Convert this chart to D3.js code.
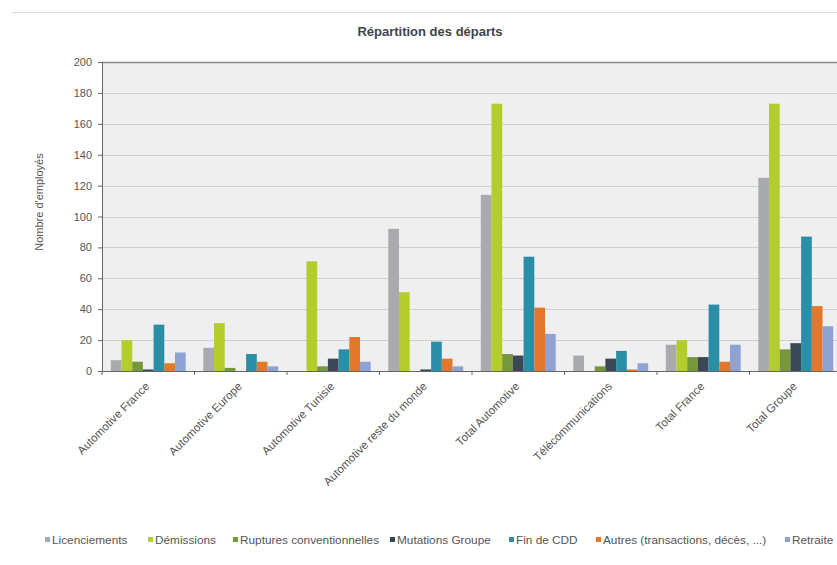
<!DOCTYPE html>
<html>
<head>
<meta charset="utf-8">
<script src="https://cdn.jsdelivr.net/npm/d3@7"></script>
<style>
  body { margin: 0; background: #fff; }
  svg { display: block; font-family: "Liberation Sans", Arial, sans-serif; }
</style>
</head>
<body>
<div id="chart-container"></div>
<script>
// catégories (axe X)
const categories = ["Automotive France", "Automotive Europe", "Automotive Tunisie",
    "Automotive reste du monde", "Total Automotive", "Télécommunications", "Total France", "Total Groupe"];

// séries
const seriesNames = ["Licenciements", "Démissions", "Ruptures conventionnelles", "Mutations Groupe",
    "Fin de CDD", "Autres (transactions, décès, ...)", "Retraite"];

const licenciements = [7, 15, 0, 92, 114, 10, 17, 125];
const demissions = [20, 31, 71, 51, 173, 0, 20, 173];
const ruptures = [6, 2, 3, 0, 11, 3, 9, 14];
const mutations = [1, 0, 8, 1, 10, 8, 9, 18];
const finCDD = [30, 11, 14, 19, 74, 13, 43, 87];
const autres = [5, 6, 22, 8, 41, 1, 6, 42];
const retraite = [12, 3, 6, 3, 24, 5, 17, 29];

const seriesValues = [licenciements, demissions, ruptures, mutations, finCDD, autres, retraite];
const yTicks = [0, 20, 40, 60, 80, 100, 120, 140, 160, 180, 200];

const colors = ["#a9aaad", "#b4cc2c", "#76973a", "#3b4756", "#2b8ea7", "#e3772c", "#8ea3d4"];

// dimensions
const width = 837, height = 565;
const margin = { top: 62, left: 102, bottom: 194, right: -5 };
const plotW = width - margin.left - margin.right;
const plotH = height - margin.top - margin.bottom;

const svg = d3.select("#chart-container").append("svg")
    .attr("width", width)
    .attr("height", height);

// ligne du haut
svg.append("line")
    .attr("x1", 12).attr("x2", width)
    .attr("y1", 12.5).attr("y2", 12.5)
    .attr("stroke", "#d6d6d6");

// titre
svg.append("text")
    .attr("x", 430).attr("y", 36)
    .attr("text-anchor", "middle")
    .style("font-size", "13px")
    .style("font-weight", "bold")
    .attr("fill", "#444")
    .text("Répartition des départs");

const g = svg.append("g").attr("transform", `translate(${margin.left},${margin.top})`);

const x0 = d3.scaleBand().domain(categories).range([0, plotW]).paddingInner(0.19).paddingOuter(0.095);
const x1 = d3.scaleBand().domain(seriesNames).range([0, x0.bandwidth()]);
const y = d3.scaleLinear().domain([0, 200]).range([plotH, 0]);

// fond de la zone de tracé
g.append("rect")
    .attr("width", plotW).attr("height", plotH)
    .attr("fill", "#efefef");

// grille
g.append("g")
    .selectAll("line")
    .data(yTicks.slice(1))
    .join("line")
    .attr("x1", 0).attr("x2", plotW)
    .attr("y1", d => Math.round(y(d)) + 0.5).attr("y2", d => Math.round(y(d)) + 0.5)
    .attr("stroke", d => d === 200 ? "#8a8a8a" : "#cfcfcf")
    .attr("stroke-width", d => d === 200 ? 1.5 : 1);

// barres
const groups = g.append("g")
    .selectAll("g")
    .data(categories)
    .join("g")
    .attr("transform", d => `translate(${x0(d)},0)`);

groups.selectAll("rect")
    .data((c, ci) => seriesNames.map((s, si) => ({ s, si, v: seriesValues[si][ci] })))
    .join("rect")
    .attr("x", d => x1(d.s))
    .attr("y", d => y(d.v))
    .attr("width", x1.bandwidth())
    .attr("height", d => plotH - y(d.v))
    .attr("fill", d => colors[d.si]);

// axe Y
const yAxis = g.append("g")
    .call(d3.axisLeft(y).tickValues(yTicks).tickSize(4).tickPadding(6));
yAxis.select(".domain").attr("stroke", "#666");
yAxis.selectAll(".tick line").attr("stroke", "#666");
yAxis.selectAll("text").attr("fill", "#555").style("font-size", "11px").style("font-family", "Liberation Sans, Arial");

// axe X
const xAxis = g.append("g").attr("transform", `translate(0,${plotH})`);
xAxis.append("line")
    .attr("x1", 0).attr("x2", plotW)
    .attr("y1", 0.5).attr("y2", 0.5)
    .attr("stroke", "#666");
xAxis.selectAll(".sep")
    .data(categories)
    .join("line")
    .attr("class", "sep")
    .attr("x1", d => x0(d) - x0.step() * x0.paddingInner() / 2)
    .attr("x2", d => x0(d) - x0.step() * x0.paddingInner() / 2)
    .attr("y1", 0).attr("y2", 4)
    .attr("stroke", "#666");

xAxis.selectAll(".lab")
    .data(categories)
    .join("text")
    .attr("class", "lab")
    .attr("transform", d => `translate(${x0(d) + x0.bandwidth() / 2 + 2},${16}) rotate(-45)`)
    .attr("text-anchor", "end")
    .attr("fill", "#555")
    .style("font-size", "11.5px")
    .text(d => d);

// titre de l'axe Y
svg.append("text")
    .attr("transform", `translate(43,202) rotate(-90)`)
    .attr("text-anchor", "middle")
    .attr("fill", "#555")
    .style("font-size", "11px")
    .text("Nombre d'employés");

// légende
const legendX = [45, 148, 233, 390, 509, 596, 785];
const legend = svg.append("g").attr("transform", "translate(0,542)");
seriesNames.forEach((s, i) => {
    const item = legend.append("g").attr("transform", `translate(${legendX[i]},0)`);
    item.append("rect")
        .attr("x", 0).attr("y", -5)
        .attr("width", 5).attr("height", 5)
        .attr("fill", colors[i]);
    item.append("text")
        .attr("x", 7).attr("y", 0)
        .attr("dy", "0.15em")
        .attr("fill", "#555")
        .style("font-size", "11.8px")
        .text(s);
});
</script>
</body>
</html>
